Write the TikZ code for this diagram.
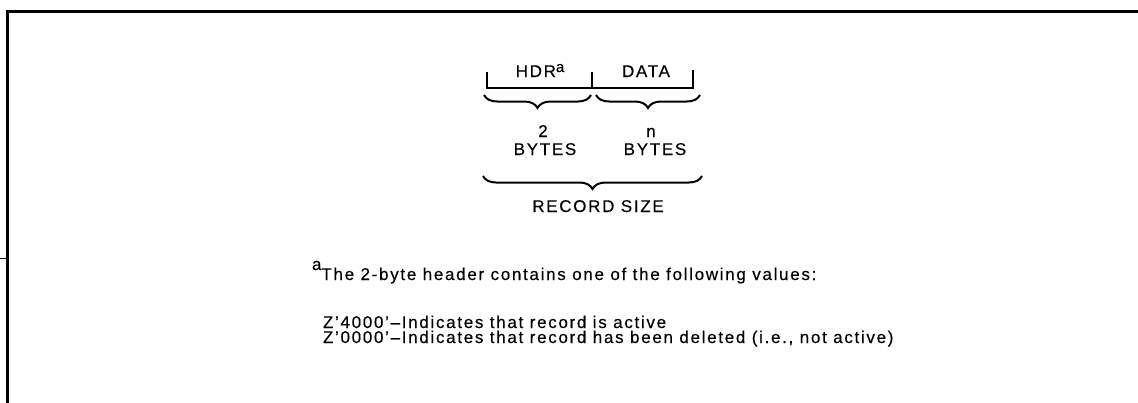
\documentclass[tikz,border=0pt]{standalone}
\usepackage{fontspec}
\setmainfont{Liberation Sans}[LetterSpace=10,FakeBold=0.3]
\usetikzlibrary{decorations.pathreplacing}
\begin{document}
\begin{tikzpicture}[x=1pt,y=-1pt,
  every node/.style={inner sep=0pt,outer sep=0pt,font=\fontsize{17}{18}\selectfont},
  label/.style={anchor=base},
  note/.style={anchor=base west},
  frameline/.style={line width=3pt,line cap=rect},
  cell/.style={line width=2pt},
  bracebelow/.style={line width=2pt,decorate,
    decoration={brace,mirror,amplitude=13pt,aspect=0.5}}]
  \useasboundingbox (0,0) rectangle (1138,402);

  % open frame: top and left edges only
  \draw[frameline] (7,402) -- (7,11) -- (1140,11);
  \draw[line width=0.6pt] (0,258) -- (7,258);

  % record layout: header field and data field
  \coordinate (c0) at (487,72);
  \coordinate (c1) at (592,72);
  \coordinate (c2) at (693,70);
  \draw[cell] (c0) -- (487,88) -- (693,88) -- (c2);
  \draw[cell] (c1) -- (592,88);
  \node[label] (hdr)  at (540,77) {HDR\raisebox{5pt}{\fontsize{15}{15}\selectfont a}};
  \node[label] (data) at (646,77) {DATA};

  % field sizes
  \coordinate (b0) at (484,95);
  \coordinate (b1) at (591,95);
  \coordinate (b2) at (596,95);
  \coordinate (b3) at (700,95);
  \draw[bracebelow] (b0) -- (b1);
  \draw[bracebelow] (b2) -- (b3);
  \node[label] (hnum)  at (543,137) {2};
  \node[label] (hunit) at (545,155) {BYTES};
  \node[label] (dnum)  at (651,137) {n};
  \node[label] (dunit) at (655,155) {BYTES};

  % whole record
  \coordinate (r0) at (483,176);
  \coordinate (r1) at (702,176);
  \draw[bracebelow] (r0) -- (r1);
  \node[label] (rsize) at (598,212) {RECORD SIZE};

  % footnote
  \node[note] (fn) at (312,280)
    {\raisebox{10pt}{a}The 2-byte header contains one of the following values:};
  \node[note] (val1) at (323,328) {Z’4000’\textendash Indicates that record is active};
  \node[note] (val2) at (323,343) {Z’0000’\textendash Indicates that record has been deleted (i.e., not active)};
\end{tikzpicture}
\end{document}
